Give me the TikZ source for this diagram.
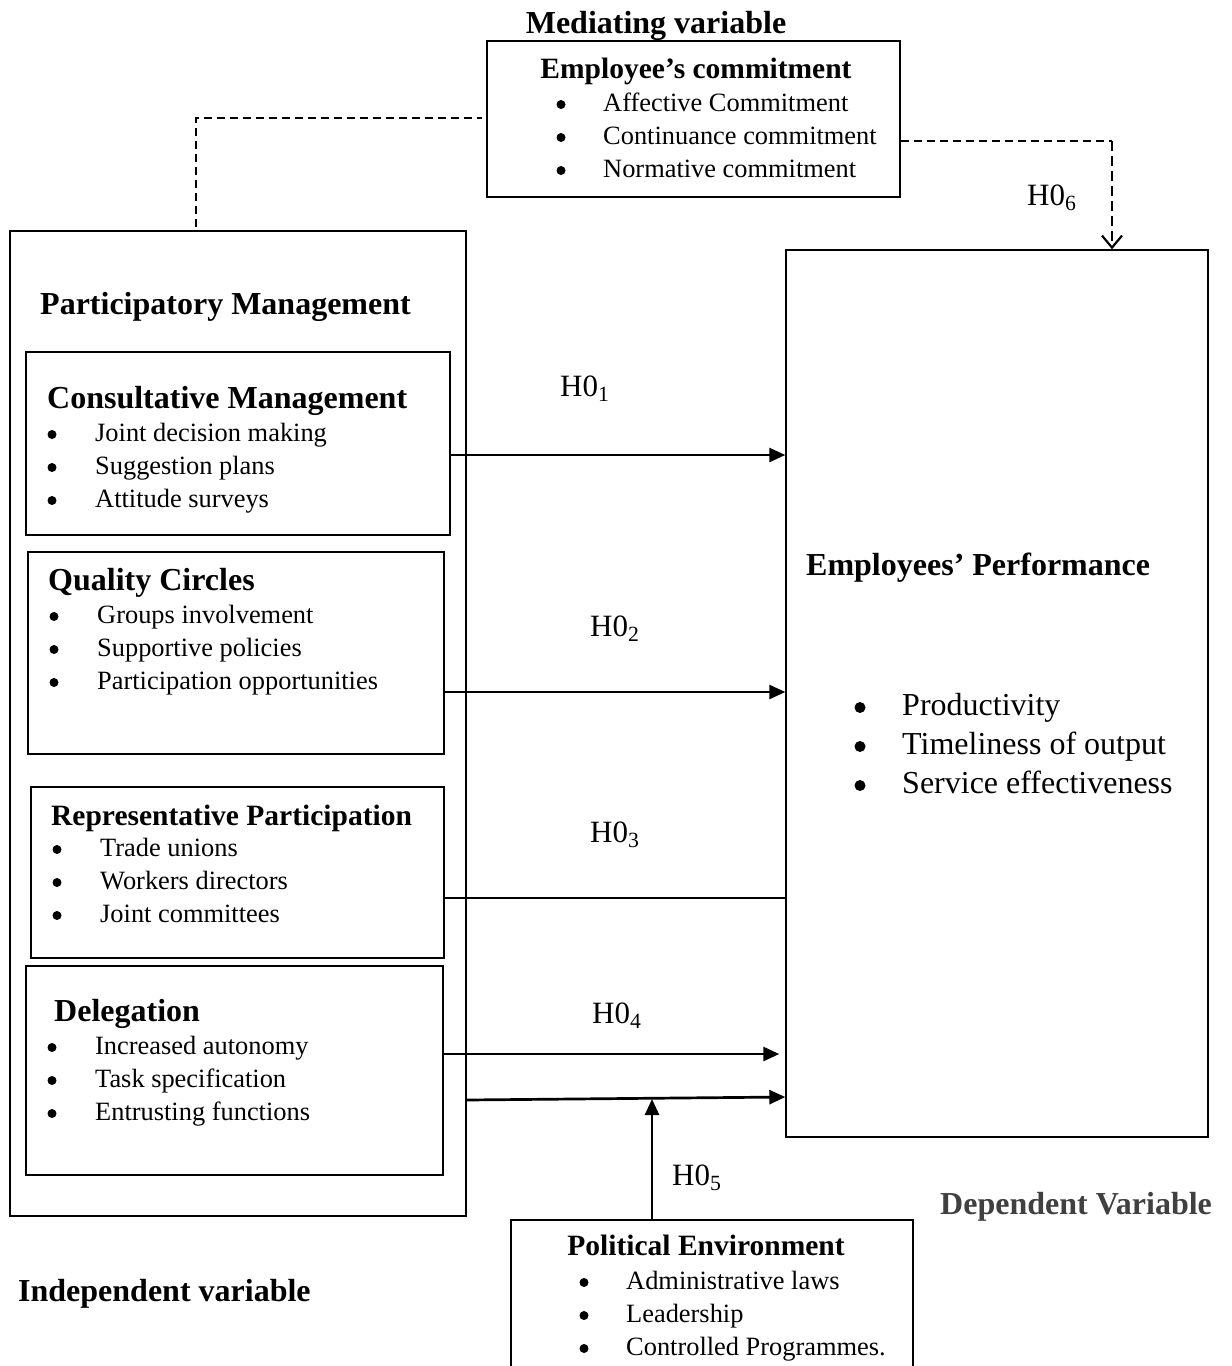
\documentclass[tikz,border=0pt]{standalone}
\usepackage{fontspec}
\setmainfont{Liberation Serif}
\usetikzlibrary{arrows.meta,calc}
\definecolor{depgray}{RGB}{64,64,64}
\def\bdy{6.5}
\newcommand{\bitem}[5]{%
  \node[bul] (#1b) at (#2,{#4-\bdy}) {};
  \node[lbl] (#1) at (#3,#4) {#5};}
\begin{document}
\begin{tikzpicture}[x=1pt,y=-1pt,
  box/.style={draw,line width=1.4pt,inner sep=0pt},
  lbl/.style={inner sep=0pt,anchor=base west},
  bul/.style={circle,fill,inner sep=0pt,minimum size=9pt},
  arr/.style={line width=2.7pt,-{Triangle[length=16pt,width=14pt]}},
  dsh/.style={line width=1.6pt,dash pattern=on 8pt off 5pt},
  body/.style={font=\fontsize{26.4}{30}\selectfont},
  big/.style={font=\fontsize{32}{36}\selectfont},
  head/.style={font=\fontsize{32}{36}\selectfont\bfseries},
  headsm/.style={font=\fontsize{29.5}{33}\selectfont\bfseries},
  hyp/.style={font=\fontsize{31}{34}\selectfont,inner sep=0pt,anchor=base west}]
\useasboundingbox (0,0) rectangle (1232,1366);

% boxes
\node[box,minimum width=456,minimum height=985] (pm) at (238,723.5) {};
\node[box,minimum width=413,minimum height=156] (med) at (693.5,119) {};
\node[box,minimum width=422,minimum height=887] (perf) at (997,693.5) {};
\node[box,minimum width=424,minimum height=183] (cm) at (238,443.5) {};
\node[box,minimum width=416,minimum height=202] (qc) at (236,653) {};
\node[box,minimum width=413,minimum height=171] (rp) at (237.5,872.5) {};
\node[box,minimum width=417,minimum height=209] (dl) at (234.5,1070.5) {};
\node[box,minimum width=402,minimum height=160] (pe) at (712,1300) {};

% mediating
\node[head,inner sep=0pt,anchor=base] (medt) at (656,33) {Mediating variable};
\node[headsm,inner sep=0pt,anchor=base] (medh) at (696,78) {Employee’s commitment};
\begin{scope}[body]
\bitem{m1}{561}{603}{111}{Affective Commitment}
\bitem{m2}{561}{603}{144}{Continuance commitment}
\bitem{m3}{561}{603}{177}{Normative commitment}
\end{scope}

% left
\node[head,lbl] (pmt) at (40,314) {Participatory Management};
\node[head,lbl] (cmt) at (47,408) {Consultative Management};
\node[head,lbl] (qct) at (48,590) {Quality Circles};
\node[headsm,lbl] (rpt) at (51,825) {Representative Participation};
\node[head,lbl] (dlt) at (54,1021) {Delegation};
\begin{scope}[body]
\bitem{c1}{52}{95}{441}{Joint decision making}
\bitem{c2}{52}{95}{474}{Suggestion plans}
\bitem{c3}{52}{95}{507}{Attitude surveys}
\bitem{q1}{54}{97}{623}{Groups involvement}
\bitem{q2}{54}{97}{656}{Supportive policies}
\bitem{q3}{54}{97}{689}{Participation opportunities}
\bitem{r1}{57}{100}{856}{Trade unions}
\bitem{r2}{57}{100}{889}{Workers directors}
\bitem{r3}{57}{100}{922}{Joint committees}
\bitem{l1}{52}{95}{1054}{Increased autonomy}
\bitem{l2}{52}{95}{1087}{Task specification}
\bitem{l3}{52}{95}{1120}{Entrusting functions}
\end{scope}

% performance
\node[head,lbl] (pft) at (806,575) {Employees’ Performance};
\begin{scope}[big,bul/.append style={minimum size=11pt}]
\def\bdy{7.5}
\bitem{p1}{860}{902}{715}{Productivity}
\bitem{p2}{860}{902}{754}{Timeliness of output}
\bitem{p3}{860}{902}{793}{Service effectiveness}
\end{scope}

% political
\node[headsm,inner sep=0pt,anchor=base] (pet) at (706,1255) {Political Environment};
\begin{scope}[body]
\bitem{e1}{584}{626}{1289}{Administrative laws}
\bitem{e2}{584}{626}{1322}{Leadership}
\bitem{e3}{584}{626}{1355}{Controlled Programmes.}
\end{scope}

% captions
\node[head,lbl,text=depgray] (dep) at (940,1214) {Dependent Variable};
\node[head,lbl] (ind) at (18,1301) {Independent variable};

% hypotheses
\node[hyp] (h1) at (560,396) {H0\textsubscript{1}};
\node[hyp] (h2) at (590,636) {H0\textsubscript{2}};
\node[hyp] (h3) at (590,842) {H0\textsubscript{3}};
\node[hyp] (h4) at (592,1023) {H0\textsubscript{4}};
\node[hyp] (h5) at (672,1185) {H0\textsubscript{5}};
\node[hyp] (h6) at (1027,205) {H0\textsubscript{6}};

% connectors
\coordinate (y1) at (0,455);
\coordinate (y2) at (0,692);
\coordinate (y3) at (0,898);
\coordinate (y4) at (0,1054);
\coordinate (y5a) at (0,1100);
\coordinate (y5b) at (0,1097);
\coordinate (j5) at (652,1099);
\draw[arr] (cm.east |- y1) -- (perf.west |- y1);
\draw[arr] (qc.east |- y2) -- (perf.west |- y2);
\draw[line width=2.7pt] (rp.east |- y3) -- (perf.west |- y3);
\draw[arr] (dl.east |- y4) -- ($(perf.west |- y4)+(-6,0)$);
\draw[arr] (pm.east |- y5a) -- (perf.west |- y5b);
\draw[arr] (pe.north -| j5) -- (j5);

\coordinate (d1) at (196,118);
\coordinate (d2) at (1112,141);
\draw[dsh] ($(pm.north -| d1)+(0,-3)$) -- (d1) -- ($(med.west |- d1)+(-4,0)$);
\draw[dsh] (med.east |- d2) -- (d2);
\draw[line width=2.6pt,dash pattern=on 10pt off 5pt,-{Straight Barb[length=12pt,width=20pt,line width=2.2pt]}] (d2) -- (perf.north -| d2);
\end{tikzpicture}
\end{document}
